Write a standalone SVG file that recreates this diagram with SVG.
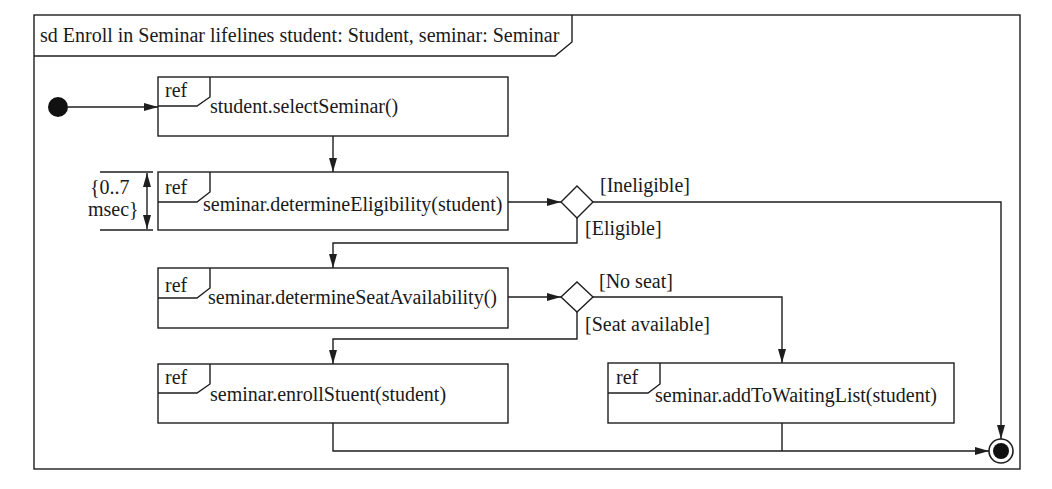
<svg xmlns="http://www.w3.org/2000/svg" width="1052" height="489" viewBox="0 0 1052 489">
<style>
  .ln { fill: none; stroke: #1e1e1e; stroke-width: 1.4; }
  .box { fill: #ffffff; stroke: #1e1e1e; stroke-width: 1.4; }
  .t { font-family: "Liberation Serif", "Times New Roman", serif; font-size: 20px; fill: #1a1a1a; }
  .arr { fill: none; stroke: #1e1e1e; stroke-width: 1.4; marker-end: url(#ah); }
</style>
<defs>
  <marker id="ah" viewBox="0 0 14 8" refX="14" refY="4" markerWidth="14" markerHeight="8" markerUnits="userSpaceOnUse" orient="auto-start-reverse">
    <path d="M0,0 L14,4 L0,8 Z" fill="#1e1e1e"/>
  </marker>
</defs>
<rect width="1052" height="489" fill="#ffffff"/>

<g id="frame">
  <rect class="box" x="34" y="15" width="986" height="454"/>
  <path class="ln" d="M34,56 H555 L572,42 V15"/>
  <text class="t" x="40" y="42">sd Enroll in Seminar lifelines student: Student, seminar: Seminar</text>
</g>

<g id="initial">
  <circle cx="58" cy="107" r="10" fill="#111111"/>
</g>

<g id="selectSeminar">
  <rect class="box" x="158" y="77" width="350" height="59"/>
  <path class="ln" d="M158,106 H197 L210,97 V77"/>
  <text class="t" x="165" y="97">ref</text>
  <text class="t" x="210" y="113">student.selectSeminar()</text>
</g>

<g id="determineEligibility">
  <rect class="box" x="158" y="172" width="350" height="58"/>
  <path class="ln" d="M158,202 H197 L210,192 V172"/>
  <text class="t" x="165" y="194">ref</text>
  <text class="t" x="203" y="211">seminar.determineEligibility(student)</text>
</g>

<g id="timeConstraint">
  <path class="ln" d="M100,172 H153 M100,230 H153"/>
  <path class="ln" d="M147,173 V229" marker-start="url(#ah)" marker-end="url(#ah)"/>
  <text class="t" x="90" y="194">{0..7</text>
  <text class="t" x="88" y="216">msec}</text>
</g>

<g id="decision1">
  <path class="box" d="M577,186 L593,202 L577,218 L561,202 Z"/>
</g>

<g id="determineSeatAvailability">
  <rect class="box" x="158" y="268" width="350" height="60"/>
  <path class="ln" d="M158,298 H197 L210,288 V268"/>
  <text class="t" x="165" y="292">ref</text>
  <text class="t" x="208" y="304">seminar.determineSeatAvailability()</text>
</g>

<g id="decision2">
  <path class="box" d="M577,282 L593,297 L577,312 L561,297 Z"/>
</g>

<g id="enrollStudent">
  <rect class="box" x="158" y="364" width="350" height="59"/>
  <path class="ln" d="M158,393 H197 L210,384 V364"/>
  <text class="t" x="165" y="384">ref</text>
  <text class="t" x="210" y="401">seminar.enrollStuent(student)</text>
</g>

<g id="addToWaitingList">
  <rect class="box" x="608" y="363" width="346" height="60"/>
  <path class="ln" d="M608,393 H648 L660,384 V363"/>
  <text class="t" x="616" y="384">ref</text>
  <text class="t" x="655" y="402">seminar.addToWaitingList(student)</text>
</g>

<g id="final">
  <circle cx="1001" cy="451" r="12" fill="#ffffff" stroke="#1e1e1e" stroke-width="1.6"/>
  <circle cx="1001" cy="451" r="8" fill="#111111"/>
</g>

<g id="connectors">
  <path class="arr" d="M68,107 H158"/>
  <path class="arr" d="M333,136 V172"/>
  <path class="arr" d="M508,202 H561"/>
  <path class="arr" d="M593,202 H1001 V439"/>
  <path class="arr" d="M577,218 V243 H333 V268"/>
  <path class="arr" d="M508,297 H561"/>
  <path class="arr" d="M593,297 H782 V363"/>
  <path class="arr" d="M577,312 V339 H333 V364"/>
  <path class="arr" d="M333,423 V451 H989"/>
  <path class="ln" d="M782,423 V451"/>
  <text class="t" x="600" y="192">[Ineligible]</text>
  <text class="t" x="585" y="235">[Eligible]</text>
  <text class="t" x="599" y="288">[No seat]</text>
  <text class="t" x="585" y="331">[Seat available]</text>
</g>
</svg>
